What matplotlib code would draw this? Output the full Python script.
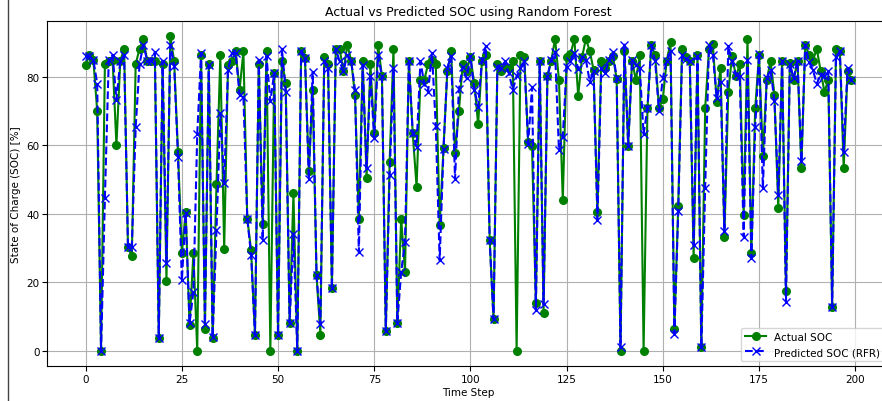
import matplotlib
matplotlib.use("Agg")
import matplotlib.pyplot as plt
from matplotlib.lines import Line2D
import numpy as np

# SOC-verdier (200 tidssteg)
actual_soc = [
    83.5, 86.5, 85, 70, 0, 83.7, 84.7, 85, 60, 84.7,
    88.2, 30.3, 27.6, 83.7, 88.2, 91.1, 84.7, 84.7, 84.7, 3.7,
    83.7, 20.3, 91.8, 84.7, 58, 28.4, 40.6, 7.4, 28.4, 0,
    86.5, 6.4, 83.7, 3.7, 48.6, 86.4, 29.7, 83.5, 84.5, 87.4,
    76.2, 87.4, 38.6, 29.4, 4.7, 83.7, 36.9, 87.4, 0, 81.1,
    4.7, 84.7, 78.1, 8.2, 46, 0, 87.4, 85.5, 52.5, 76.2,
    22, 4.7, 85.7, 83.7, 18.3, 88.2, 88.2, 81.6, 89.4, 84.7,
    74.7, 38.6, 84.7, 50.5, 83.7, 63.5, 89.4, 80.1, 5.7, 55.2,
    88.2, 8.2, 38.6, 23, 84.7, 63.5, 47.9, 79.1, 79.1, 83.7,
    85, 83.7, 36.7, 59.1, 81.8, 87.4, 57.7, 70, 83.7, 81.8,
    85.7, 78.1, 66.1, 84.7, 86.4, 32.3, 9.2, 83.7, 81.8, 83,
    82.7, 84.7, 0, 86.4, 85.7, 61, 59.9, 13.8, 84.7, 11.1,
    80.1, 84.7, 91.1, 79.1, 44, 85.7, 86.6, 91.1, 74.5, 85.7,
    91.1, 87.6, 82, 40.6, 84.7, 82.7, 84.7, 86.2, 79.4, 0,
    87.6, 59.9, 84.5, 79.1, 86.4, 0, 70.8, 89.2, 86.4, 70.8,
    73.6, 84.7, 90.1, 6.4, 42.3, 88.2, 85.7, 84.7, 27, 86.4,
    1, 70.8, 88.2, 89.5, 72.6, 82.7, 33.3, 75.5, 86.2, 80.1,
    83.7, 39.6, 91.1, 28.4, 70.8, 86.4, 57, 79.1, 84.7, 74.7,
    41.6, 84.7, 17.4, 84, 79.1, 84.7, 53.3, 89.4, 86.4, 84.7,
    88.2, 81.8, 75.6, 79.1, 12.8, 88.2, 87.4, 53.3, 81.8, 79.1,
]

predicted_soc = [
    86, 86, 85, 78, 0, 44.5, 84.8, 86.4, 73.3, 84.5,
    86.4, 30.3, 30.3, 65.2, 83.7, 89.4, 84.7, 84.5, 87.2, 3.7,
    84.7, 25.5, 89.4, 83.3, 56.7, 20.6, 40.1, 8, 17.2, 63.2,
    86.9, 7.9, 83.5, 4, 35.2, 69.4, 49, 82, 86.9, 87,
    74.7, 74.2, 38.6, 27.9, 4.7, 85, 32.3, 86, 72.8, 81.1,
    4.7, 88.2, 75.7, 8.2, 34.2, 0, 87.4, 85.5, 50.1, 81.4,
    22, 7.9, 84.5, 82.7, 18.3, 88.2, 84.5, 81.6, 86.4, 84.7,
    76.2, 28.7, 83.5, 53.3, 80.1, 62, 86.4, 80.1, 5.7, 51.3,
    82.5, 8.2, 23, 31.8, 84.7, 63.5, 59.6, 84.5, 78, 75.7,
    87, 65.5, 26.4, 58.9, 82.7, 86, 50.1, 76.5, 83, 79.6,
    86, 76.2, 71.3, 85, 88.9, 32.3, 9.2, 83, 82.7, 84.5,
    81, 76.2, 80.1, 82.5, 84.5, 60.5, 76.9, 11.8, 84.5, 13.5,
    80.1, 85, 87.2, 58.6, 62.5, 83, 84.5, 86.9, 82.3, 85.7,
    85, 78.6, 81.6, 38.1, 82.5, 81, 85, 87.2, 79.8, 1,
    89.4, 59.9, 85, 83.5, 82.5, 63.2, 70.8, 89.2, 84.5, 69.9,
    79.6, 84.7, 87.6, 5, 40.8, 86.4, 85.3, 84.7, 30.8, 86,
    1, 47.6, 89.2, 86.4, 73.8, 78.6, 34.9, 88.9, 84.5, 80.6,
    80.1, 33.3, 85, 27, 65.2, 86.6, 47.4, 79.6, 82, 73,
    45.5, 84.7, 14.2, 83.7, 79.6, 84.7, 55.3, 89.4, 84.3, 82,
    78, 80.5, 80.1, 81.6, 12.8, 85.7, 87.4, 58, 82.5, 79.1,
]

time_step = np.arange(len(actual_soc))

fig = plt.figure(figsize=(8.82, 4.02), dpi=100)
ax = fig.add_axes([0.0537, 0.086, 0.955, 0.86])

ax.plot(time_step, actual_soc, color="green", marker="o", markersize=5.5,
        linewidth=1.5, label="Actual SOC")
ax.plot(time_step, predicted_soc, color="blue", marker="x", markersize=5.5,
        linestyle="--", linewidth=1.5, label="Predicted SOC (RFR)")

ax.set_title("Actual vs Predicted SOC using Random Forest", fontsize=9, pad=4)
ax.set_xlabel("Time Step", fontsize=7.5, labelpad=2)
ax.set_ylabel("State of Charge (SOC) [%]", fontsize=7.5, labelpad=4)
ax.tick_params(labelsize=7.5, pad=2)
ax.legend(loc="lower right", fontsize=7.5)
ax.grid(True)

# kantlinje til venstre i skjermbildet
fig.add_artist(Line2D([8 / 882, 8 / 882], [0, 1], color="#444444", linewidth=1))

fig.savefig("out.png", dpi=100)
